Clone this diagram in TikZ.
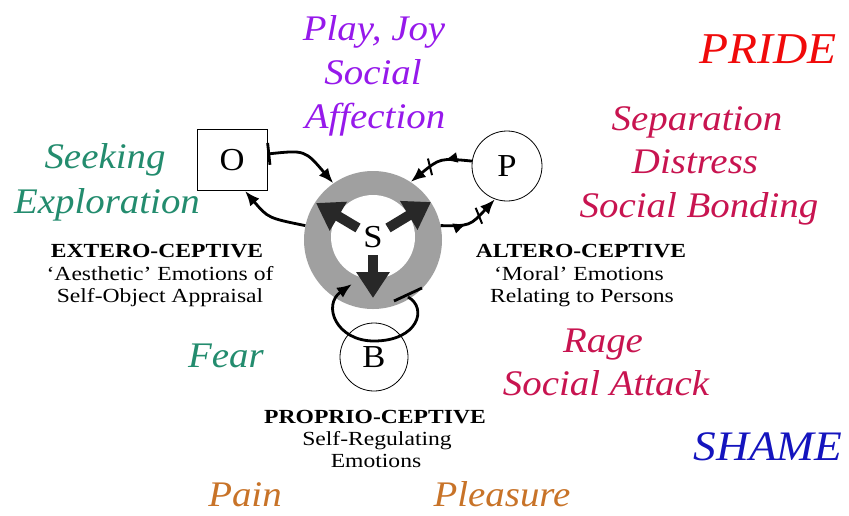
\documentclass[tikz,border=0pt]{standalone}
\usepackage{fontspec}
\setmainfont{Liberation Serif}[FakeStretch=1.08]
\newfontfamily\lblfont{Liberation Serif}[FakeStretch=1.18]
\usetikzlibrary{arrows.meta,decorations.markings}
\definecolor{cteal}{RGB}{35,140,110}
\definecolor{cpurple}{RGB}{150,25,235}
\definecolor{cred}{RGB}{240,10,10}
\definecolor{ccrim}{RGB}{200,20,80}
\definecolor{cblue}{RGB}{20,20,190}
\definecolor{corange}{RGB}{200,115,40}
\definecolor{cring}{RGB}{160,160,160}
\definecolor{cdark}{RGB}{40,40,40}
\begin{document}
\begin{tikzpicture}[x=1pt,y=-1pt,
  emo/.style={font=\fontsize{36}{44}\selectfont\itshape, anchor=base, inner sep=0pt},
  big/.style={font=\fontsize{44}{50}\selectfont\itshape},
  lbl/.style={font=\lblfont\fontsize{20}{22}\selectfont, anchor=base, inner sep=0pt},
  letter/.style={font=\fontsize{32}{32}\selectfont, inner sep=0pt},
  conn/.style={line width=2.8pt, -{Latex[length=15pt,width=12pt]}},
  bigarr/.style={cdark, line width=10pt, -{Triangle[length=26pt,width=32pt]}},
  pmarks/.style={postaction={decorate}, decoration={markings,
     mark=at position 0.42 with {\arrow{Latex[length=14pt,width=11pt]}},
     mark=at position 0.64 with {\draw[line width=2pt,-] (-3pt,-8pt) -- (3pt,8pt);}}}
]
\useasboundingbox (0,0) rectangle (849,515);
\fill[white] (0,0) rectangle (849,515);

% central ring and nodes
\node[circle, fill=cring, minimum size=138pt, inner sep=0pt] (ring) at (373,240) {};
\node[circle, fill=white, minimum size=84pt, letter] (S) at (373,237) {S};
\node[draw, line width=0.8pt, minimum width=70pt, minimum height=61pt, letter] (O) at (232,160) {O};
\node[draw, circle, line width=0.8pt, minimum size=70pt, letter] (P) at (507,166) {P};
\node[draw, circle, line width=0.8pt, minimum size=68pt, letter] (B) at (374,357) {B};

% thick arrows out of S
\coordinate (al0) at (358,228); \coordinate (al1) at (316,203);
\coordinate (ar0) at (388,228); \coordinate (ar1) at (431,202);
\coordinate (ad0) at (373,255); \coordinate (ad1) at (373,298);
\draw[bigarr] (al0) -- (al1);
\draw[bigarr] (ar0) -- (ar1);
\draw[bigarr] (ad0) -- (ad1);

% O connectors
\draw[line width=2.8pt, {Bar[width=22pt]}-{Latex[length=15pt,width=12pt]}]
  ([yshift=6pt]O.east) .. controls (305,150) .. (ring.125);
\draw[conn] (ring.168) .. controls (268,218) .. ([xshift=13pt]O.south);

% P connectors
\draw[conn, pmarks] (P.172) .. controls (440,158) .. (ring.57);
\draw[conn, pmarks] (ring.12) .. controls (470,226) .. (P.250);

% B loop
\coordinate (l0) at (408,297);
\coordinate (l1) at (352,284);
\coordinate (bar0) at (394,301);
\coordinate (bar1) at (422,288);
\draw[conn] (l0) .. controls (428,308) and (418,341) .. (374,341)
   .. controls (336,341) and (322,305) .. (l1);
\draw[line width=2.8pt] (bar0) -- (bar1);

% emotion words
\node[emo, text=cpurple] (play) at (374,40) {Play, Joy};
\node[emo, text=cpurple] (soc) at (373,84) {Social};
\node[emo, text=cpurple] (aff) at (375,128) {Affection};
\node[emo, big, text=cred] (pride) at (768,63) {PRIDE};
\node[emo, text=ccrim] (sep) at (697,130) {Separation};
\node[emo, text=ccrim] (dist) at (695,173) {Distress};
\node[emo, text=ccrim] (bond) at (699,217) {Social Bonding};
\node[emo, text=cteal] (seek) at (105,168) {Seeking};
\node[emo, text=cteal] (expl) at (107,213) {Exploration};
\node[emo, text=cteal] (fear) at (226,367) {Fear};
\node[emo, text=ccrim] (rage) at (603,352) {Rage};
\node[emo, text=ccrim] (attack) at (606,395) {Social Attack};
\node[emo, font=\fontsize{42}{48}\selectfont\itshape, text=cblue] (shame) at (768,460) {SHAME};
\node[emo, text=corange] (pain) at (245,506) {Pain};
\node[emo, text=corange] (pleas) at (502,506) {Pleasure};

% black labels
\node[lbl] (ext1) at (157,257) {\bfseries EXTERO-CEPTIVE};
\node[lbl] (ext2) at (160,280) {‘Aesthetic’ Emotions of};
\node[lbl] (ext3) at (160,302) {Self-Object Appraisal};
\node[lbl] (alt1) at (581,257) {\bfseries ALTERO-CEPTIVE};
\node[lbl] (alt2) at (579,280) {‘Moral’ Emotions};
\node[lbl] (alt3) at (582,302) {Relating to Persons};
\node[lbl] (pro1) at (375,423) {\bfseries PROPRIO-CEPTIVE};
\node[lbl] (pro2) at (377,445) {Self-Regulating};
\node[lbl] (pro3) at (376,467) {Emotions};
\end{tikzpicture}
\end{document}
